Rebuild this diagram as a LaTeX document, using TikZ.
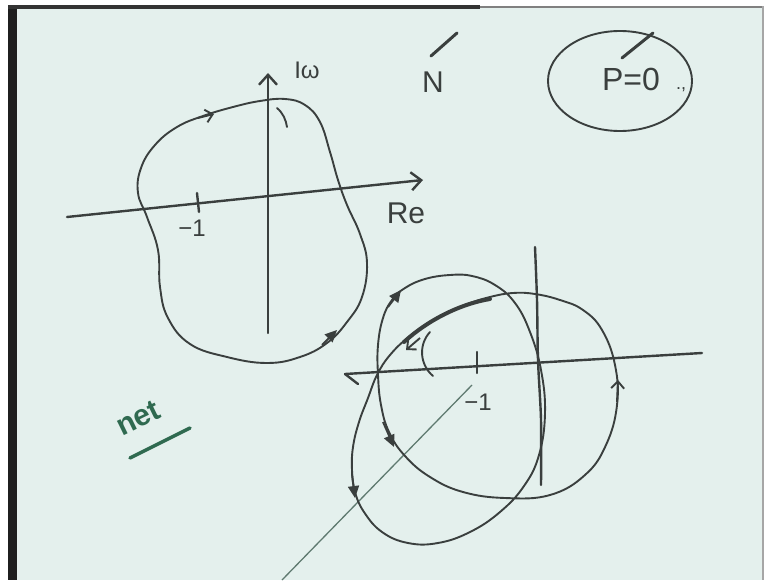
\documentclass[tikz,border=0pt]{standalone}
\usepackage{fontspec}
\setmainfont{Liberation Sans}
\usetikzlibrary{arrows.meta}
\definecolor{board}{HTML}{E4F0ED}
\definecolor{pen}{HTML}{3A3F3E}
\definecolor{greenpen}{HTML}{2F6A50}
\definecolor{raypen}{HTML}{5F7A70}
\begin{document}
\begin{tikzpicture}[x=1pt,y=-1pt,
  stroke/.style={pen,line width=1.9pt,line cap=round},
  axis/.style={pen,line width=2.4pt,line cap=round},
  barb/.style={-{Straight Barb[length=10pt,width=18pt]}},
  tri/.style={pen,line width=1.9pt,-{Triangle[length=12pt,width=11pt]}},
  chev/.style={pen,line width=1.9pt,-{Straight Barb[length=7pt,width=13pt]}},
  hand/.style={pen,inner sep=0pt,font=\fontsize{30}{32}\selectfont},
  tickmark/.style={pen,line width=3pt,line cap=round}]
\useasboundingbox (0,0) rectangle (767,580);
% board and frame
\fill[white] (0,0) rectangle (767,580);
\fill[board] (17,8) rectangle (762,580);
\fill[black!88] (8,5) rectangle (17,580);
\fill[black!80] (8,5) rectangle (480,9);
\fill[black!50] (480,6) rectangle (762,8);
\fill[black!35] (762,6) rectangle (764,580);
% left plot: axes
\draw[axis,barb] (67,217) -- (423,180);
\draw[axis,barb] (268,333) -- (268,73);
\draw[axis] (197,193) -- (199,212);
\node[hand,font=\fontsize{24}{26}\selectfont] (iw) at (307,70) {Iω};
\node[hand,font=\fontsize{30}{32}\selectfont] (re) at (406,213) {Re};
\node[hand,font=\fontsize{24}{26}\selectfont] (mone) at (192,228) {−1};
% left plot: locus
\draw[stroke] plot[smooth cycle,tension=0.7] coordinates {
  (233,107) (260,101) (285,99) (305,105) (320,122) (330,152) (338,180)
  (347,205) (360,234) (367,263) (362,297) (347,322) (327,343) (300,357)
  (267,363) (227,357) (190,344) (168,318) (160,287) (158,250) (147,217)
  (138,193) (141,168) (155,145) (177,127) (203,116)};
\draw[stroke] (277,108) .. controls (283,113) and (286,120) .. (287,127);
\draw[chev] (198,118) -- (214,114);
\draw[tri] (322,345) -- (337,330);
% N and P=0
\draw[tickmark] (431,56) -- (457,33);
\node[hand] (nn) at (433,82) {N};
\draw[stroke] (620,81) ellipse[x radius=72,y radius=50];
\node[hand,font=\fontsize{32}{34}\selectfont] (pzero) at (631,79) {P=0};
\node[hand,font=\fontsize{18}{20}\selectfont] (dots) at (681,90) {.,};
\draw[tickmark] (622,58) -- (653,33);
% net
\node[greenpen,rotate=26,inner sep=0pt,font=\bfseries\fontsize{30}{32}\selectfont] (net) at (138,418) {net};
\draw[greenpen,line width=3.5pt,line cap=round] (130,458) -- (190,428);
% right plot: axes
\draw[axis] (345,374) -- (702,353);
\draw[axis] (345,374) -- (358,384);
\draw[axis] plot[smooth] coordinates {(535,247) (537,300) (538,360) (541,420) (541,485)};
\draw[axis] (477,352) -- (477,373);
\node[hand,font=\fontsize{24}{26}\selectfont] (mtwo) at (478,402) {−1};
\draw[raypen,line width=1.3pt] (282,580) -- (472,385);
% right plot: locus
\draw[stroke] plot[smooth cycle,tension=0.7] coordinates {
  (560,300) (535,294) (513,293) (490,297) (465,305) (437,318) (410,336)
  (390,355) (377,375) (368,398) (359,422) (353,447) (352,470) (355,492)
  (364,512) (382,532) (408,543) (438,543) (470,532) (500,512) (524,486)
  (539,455) (545,413) (541,370) (530,332) (515,303) (495,285) (472,276)
  (450,275) (425,279) (405,288) (392,300) (383,318) (378,345) (378,375)
  (381,405) (389,432) (405,456) (430,477) (463,492) (505,498) (550,495)
  (585,475) (606,445) (617,405) (615,365) (602,330) (583,310)};
\draw[pen,line width=4pt,line cap=round] (490,299) .. controls (460,304) and (428,320) .. (404,342);
\draw[stroke] (430,332) .. controls (418,345) and (420,365) .. (433,376);
\draw[tri] (388,307) -- (401,290);
\draw[tri] (383,422) -- (394,447);
\draw[tri] (352,474) -- (355,498);
\draw[chev] (617,402) -- (618,380);
\draw[chev] (420,338) -- (406,350);
\end{tikzpicture}
\end{document}
